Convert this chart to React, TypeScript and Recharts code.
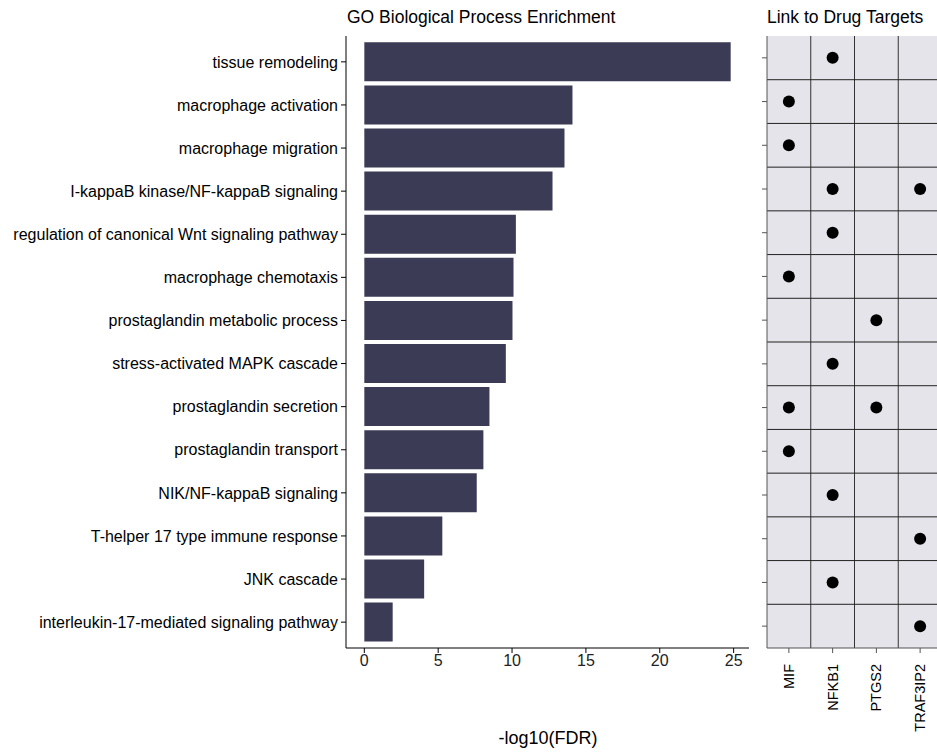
import React from 'react';
import {
  BarChart,
  Bar,
  XAxis,
  YAxis,
  ScatterChart,
  Scatter,
  ReferenceArea,
  ReferenceLine,
} from 'recharts';

// GO terms, top to bottom
const terms = [
  'tissue remodeling',
  'macrophage activation',
  'macrophage migration',
  'I-kappaB kinase/NF-kappaB signaling',
  'regulation of canonical Wnt signaling pathway',
  'macrophage chemotaxis',
  'prostaglandin metabolic process',
  'stress-activated MAPK cascade',
  'prostaglandin secretion',
  'prostaglandin transport',
  'NIK/NF-kappaB signaling',
  'T-helper 17 type immune response',
  'JNK cascade',
  'interleukin-17-mediated signaling pathway',
];

// -log10(FDR) per term
const enrichment = [24.8, 14.09, 13.55, 12.74, 10.26, 10.1, 10.03, 9.58, 8.47, 8.06, 7.61, 5.28, 4.05, 1.92];

const fdrTicks = [0, 5, 10, 15, 20, 25];

const targets = ['MIF', 'NFKB1', 'PTGS2', 'TRAF3IP2'];

// drug targets linked to each term (same order as terms)
const links: string[][] = [
  ['NFKB1'],
  ['MIF'],
  ['MIF'],
  ['NFKB1', 'TRAF3IP2'],
  ['NFKB1'],
  ['MIF'],
  ['PTGS2'],
  ['NFKB1'],
  ['MIF', 'PTGS2'],
  ['MIF'],
  ['NFKB1'],
  ['TRAF3IP2'],
  ['NFKB1'],
  ['TRAF3IP2'],
];

const FONT = '"Liberation Sans", Arial, sans-serif';
const BAR_COLOR = '#3b3b55';
const PANEL_BG = '#e4e4ea';

const barData = terms.map((term, i) => ({ term, value: enrichment[i] }));

const dotData = links.flatMap((genes, row) =>
  genes.map((g) => ({ x: targets.indexOf(g), y: row }))
);

const maxVal = Math.max(...enrichment);
const pad = maxVal * 0.05;

const GeneTick = (props: any) => {
  const { x, y, payload } = props;
  return (
    <text
      x={x}
      y={y + 9}
      transform={`rotate(-90, ${x}, ${y + 9})`}
      textAnchor="end"
      dominantBaseline="central"
      fontSize={14.5}
      fontFamily={FONT}
      fill="#000"
    >
      {targets[payload.value]}
    </text>
  );
};

const App: React.FC = () => {
  return (
    <div
      style={{
        position: 'absolute',
        left: 0,
        top: 0,
        width: 937,
        height: 752,
        overflow: 'hidden',
        background: '#fff',
        fontFamily: FONT,
      }}
    >
      <div style={{ position: 'absolute', left: 347, top: 7, fontSize: 17.5, color: '#000' }}>
        GO Biological Process Enrichment
      </div>
      <div style={{ position: 'absolute', left: 767, top: 7, fontSize: 17.5, color: '#000' }}>
        Link to Drug Targets
      </div>
      <div
        style={{
          position: 'absolute',
          left: 347,
          width: 402,
          top: 728,
          textAlign: 'center',
          fontSize: 18,
          color: '#000',
        }}
      >
        -log10(FDR)
      </div>

      <div style={{ position: 'absolute', left: 0, top: 0 }}>
        <BarChart
          width={760}
          height={752}
          data={barData}
          layout="vertical"
          margin={{ top: 36, right: 11, bottom: 0, left: 0 }}
          barSize={39}
        >
          <XAxis
            type="number"
            domain={[-pad, maxVal + pad]}
            ticks={fdrTicks}
            allowDataOverflow
            height={104}
            tickSize={5}
            tickMargin={2}
            stroke="#000"
            tick={{ fontSize: 16, fill: '#222', fontFamily: FONT }}
          />
          <YAxis
            type="category"
            dataKey="term"
            width={346}
            padding={{ top: 4.3, bottom: 4.3 }}
            tickSize={5}
            tickMargin={3}
            stroke="#000"
            interval={0}
            tick={{ fontSize: 16, fill: '#000', fontFamily: FONT }}
          />
          <Bar dataKey="value" fill={BAR_COLOR} isAnimationActive={false} />
        </BarChart>
      </div>

      <div style={{ position: 'absolute', left: 700, top: 0 }}>
        <ScatterChart
          width={260}
          height={752}
          margin={{ top: 36, right: 18, bottom: 0, left: 62 }}
        >
          <XAxis
            type="number"
            dataKey="x"
            domain={[-0.5, targets.length - 0.5]}
            ticks={targets.map((_, i) => i)}
            height={104}
            tickSize={5}
            stroke="#555"
            tick={<GeneTick />}
            interval={0}
          />
          <YAxis
            type="number"
            dataKey="y"
            domain={[-0.5, terms.length - 0.5]}
            ticks={terms.map((_, i) => i)}
            reversed
            width={5}
            tickSize={5}
            stroke="#555"
            tickFormatter={() => ''}
            interval={0}
          />
          <ReferenceArea
            x1={-0.5}
            x2={targets.length - 0.5}
            y1={-0.5}
            y2={terms.length - 0.5}
            fill={PANEL_BG}
            fillOpacity={1}
            stroke="none"
          />
          {targets.slice(1).map((_, i) => (
            <ReferenceLine key={`v${i}`} x={i + 0.5} stroke="#333" strokeWidth={1} />
          ))}
          {terms.slice(1).map((_, i) => (
            <ReferenceLine key={`h${i}`} y={i + 0.5} stroke="#222" strokeWidth={1} />
          ))}
          <Scatter
            data={dotData}
            fill="#000"
            isAnimationActive={false}
            shape={(p: any) => <circle cx={p.cx} cy={p.cy} r={6} fill="#000" />}
          />
        </ScatterChart>
      </div>
    </div>
  );
};

export default App;
